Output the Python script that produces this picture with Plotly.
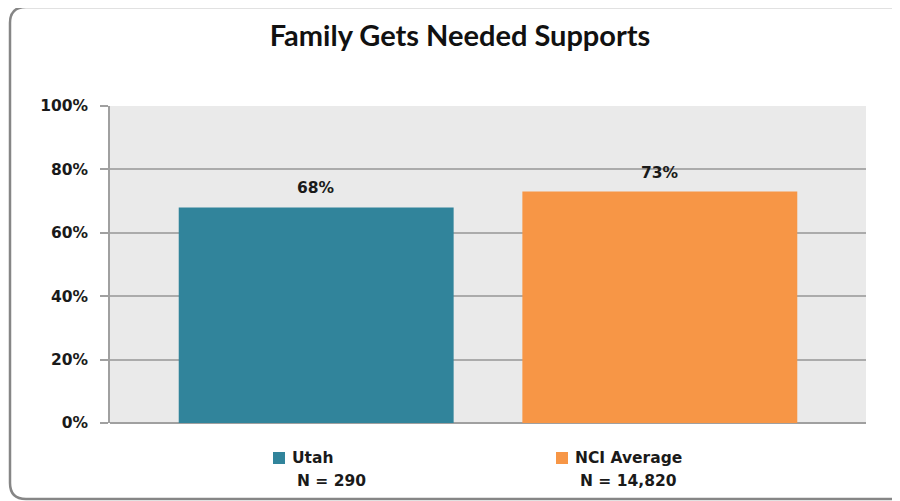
import plotly.graph_objects as go

categories = ["Utah", "NCI Average"]
sample_sizes = ["290", "14,820"]
values = [68, 73]
bar_colors = ["#31849B", "#F79646"]
y_ticks = [0, 20, 40, 60, 80, 100]
y_tick_labels = ["0%", "20%", "40%", "60%", "80%", "100%"]
title_text = "Family Gets Needed Supports"

W, H = 900, 501
OFF = 8  # page body margin
L, T = 110 - OFF, 106 - OFF
R = W - (866 - OFF)
B = H - (423 - OFF)
pw, ph = W - L - R, H - T - B

BAR_W = 0.8
GAP = 1 - BAR_W

def px2paper(x, y):
    # x, y: pixel positions as seen in the screenshot
    return (x - OFF - L) / pw, (H - B - (y - OFF)) / ph

fig = go.Figure()
for cat, v, c in zip(categories, values, bar_colors):
    fig.add_trace(go.Bar(
        x=[cat], y=[v], name=cat,
        marker=dict(color=c, line=dict(width=0)),
        width=BAR_W, showlegend=False, hoverinfo="x+y",
    ))
    fig.add_annotation(x=cat, y=v, xref="x", yref="y", text=f"{v}%",
                       showarrow=False, yanchor="middle", yshift=19,
                       font=dict(family="DejaVu Sans", size=15.5, color="#1a1a1a",
                                 weight="bold"))

# rounded chart border
x0, y0 = px2paper(10, 7)
x1, y1 = px2paper(910, 499)
rx, ry = 16 / pw, 16 / ph
path = (f"M {x0+rx} {y0} L {x1-rx} {y0} Q {x1} {y0} {x1} {y0-ry} "
        f"L {x1} {y1+ry} Q {x1} {y1} {x1-rx} {y1} "
        f"L {x0+rx} {y1} Q {x0} {y1} {x0} {y1+ry} "
        f"L {x0} {y0-ry} Q {x0} {y0} {x0+rx} {y0} Z")
fig.add_shape(type="path", path=path, xref="paper", yref="paper",
              line=dict(color="#868686", width=2.5), layer="below")

# manual legend
legend_x = [273, 556]
leg_font = dict(family="DejaVu Sans", size=15.5, color="#1a1a1a", weight="bold")
for lx, cat, n, c in zip(legend_x, categories, sample_sizes, bar_colors):
    sx0, sy0 = px2paper(lx, 452)
    sx1, sy1 = px2paper(lx + 12, 464)
    fig.add_shape(type="rect", xref="paper", yref="paper",
                  x0=sx0, x1=sx1, y0=sy1, y1=sy0,
                  fillcolor=c, line=dict(width=0))
    ax, ay = px2paper(lx + 17, 458)
    fig.add_annotation(text=cat, xref="paper", yref="paper", x=ax, y=ay,
                       xanchor="left", yanchor="middle", showarrow=False,
                       font=leg_font)
    ax2, ay2 = px2paper(lx + 22, 481)
    fig.add_annotation(text=f"N = {n}", xref="paper", yref="paper", x=ax2, y=ay2,
                       xanchor="left", yanchor="middle", showarrow=False,
                       font=leg_font)

tx, _ = px2paper(460, 0)
fig.update_layout(
    width=W, height=H,
    margin=dict(l=L, r=R, t=T, b=B),
    paper_bgcolor="white", plot_bgcolor="#EAEAEA",
    title=dict(text=f"<b>{title_text}</b>", x=tx, xref="paper", xanchor="center",
               y=1 - 28 / H, yanchor="middle",
               font=dict(family="Lato", size=29, color="#111111")),
    showlegend=False,
    xaxis=dict(showticklabels=False, showgrid=False, showline=False, ticks="",
               zeroline=False, automargin=False,
               range=[-BAR_W / 2 - GAP, 1 + BAR_W / 2 + GAP]),
    yaxis=dict(range=[0, 100], tickvals=y_ticks, ticktext=y_tick_labels,
               showgrid=True, gridcolor="#ABABAB", gridwidth=1.5,
               showline=True, linecolor="#A0A0A0", linewidth=1.5,
               ticks="outside", ticklen=8, tickcolor="#A0A0A0", tickwidth=1.5,
               zeroline=True, zerolinecolor="#A0A0A0", zerolinewidth=1.5,
               tickfont=dict(family="DejaVu Sans", size=15.5, color="#1a1a1a",
                             weight="bold"),
               ticklabelstandoff=9, automargin=False),
)

fig.write_html("out.html")
